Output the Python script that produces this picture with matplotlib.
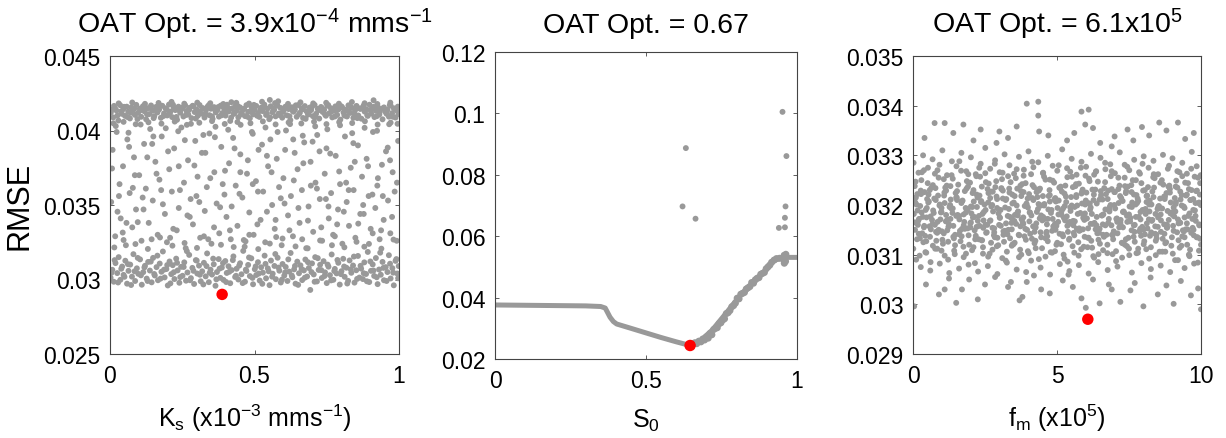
import matplotlib
matplotlib.use('Agg')
import matplotlib.pyplot as plt
import numpy as np

plt.rcParams['font.family'] = ['Liberation Sans', 'DejaVu Sans']
plt.rcParams['mathtext.fontset'] = 'custom'
plt.rcParams['mathtext.rm'] = 'Liberation Sans'
plt.rcParams['mathtext.it'] = 'Liberation Sans:italic'
plt.rcParams['mathtext.default'] = 'regular'

# ---------------- Panel 1: Ks (x in 1e-3 of axis range, y in 1e-5) ----------------
ks_top = [(3,4121),(11,4088),(17,4152),(22,4135),(29,4067),(35,4170),(41,4112),(46,4143),(52,4098),(58,4160),(63,4126),(69,4081),(74,4155),(80,4138),(86,4105),(91,4172),(97,4118),(103,4147),(108,4092),(114,4163),(119,4129),(125,4075),(131,4150),(136,4110),(142,4168),(147,4133),(153,4096),(159,4158),(164,4121),(170,4141),(176,4085),(181,4166),(187,4115),(192,4149),(198,4101),(204,4174),(209,4127),(215,4090),(220,4156),(226,4137),(232,4072),(237,4160),(243,4119),(248,4145),(254,4094),(260,4169),(265,4131),(271,4107),(276,4153),(282,4083),(288,4164),(293,4124),(299,4142),(304,4099),(310,4171),(316,4113),(321,4150),(327,4087),(332,4136),(338,4161),(344,4103),(349,4146),(355,4078),(360,4157),(366,4122),(372,4139),(377,4093),(383,4167),(388,4116),(394,4151),(400,4100),(405,4173),(411,4128),(416,4064),(422,4148),(428,4111),(433,4162),(439,4134),(444,4089),(450,4155),(456,4120),(461,4143),(467,4097),(472,4170),(478,4125),(484,4082),(489,4159),(495,4108),(500,4140),(506,4165),(512,4117),(517,4091),(523,4153),(528,4130),(534,4174),(540,4104),(545,4147),(551,4076),(556,4163),(562,4123),(568,4138),(573,4095),(579,4168),(584,4114),(590,4152),(596,4086),(601,4135),(607,4160),(612,4102),(618,4144),(624,4070),(629,4156),(635,4126),(640,4141),(646,4092),(652,4171),(657,4119),(663,4149),(668,4084),(674,4164),(680,4129),(685,4106),(691,4154),(696,4137),(702,4096),(708,4172),(713,4112),(719,4145),(724,4080),(730,4158),(736,4124),(741,4139),(747,4099),(752,4166),(758,4115),(764,4150),(769,4088),(775,4133),(780,4162),(786,4105),(792,4146),(797,4073),(803,4157),(808,4121),(814,4140),(820,4094),(825,4169),(831,4118),(836,4153),(842,4085),(848,4136),(853,4165),(859,4101),(864,4148),(870,4079),(876,4159),(881,4127),(887,4142),(892,4098),(898,4173),(904,4113),(909,4151),(915,4090),(920,4132),(926,4161),(932,4107),(937,4144),(943,4075),(948,4155),(954,4123),(960,4138),(965,4093),(971,4167),(976,4116),(982,4149),(988,4087),(993,4134),(998,4110),
(6,4140),(14,4165),(26,4101),(38,4128),(49,4159),(61,4090),(72,4119),(84,4147),(95,4077),(106,4136),(117,4161),(128,4109),(140,4151),(151,4083),(162,4130),(173,4168),(185,4097),(196,4142),(207,4118),(218,4173),(230,4091),(241,4134),(252,4156),(263,4104),(274,4139),(286,4166),(297,4080),(308,4125),(319,4149),(330,4112),(342,4170),(353,4095),(364,4137),(375,4158),(386,4102),(397,4131),(408,4150),(419,4086),(431,4119),(442,4164),(453,4108),(464,4145),(475,4093),(487,4128),(498,4172),(509,4099),(520,4139),(531,4155),(543,4114),(554,4088),(565,4147),(576,4167),(587,4103),(598,4124),(610,4157),(621,4096),(632,4133),(643,4169),(654,4110),(666,4142),(677,4078),(688,4122),(699,4160),(710,4090),(722,4136),(733,4152),(744,4107),(755,4171),(766,4127),(778,4094),(789,4140),(800,4163),(811,4100),(822,4131),(834,4154),(845,4115),(856,4083),(867,4145),(878,4168),(890,4104),(901,4138),(912,4159),(923,4096),(934,4126),(946,4150),(957,4112),(968,4170),(979,4092),(990,4141),(996,4160),
(12,4048),(47,4058),(89,4042),(133,4055),(178,4046),(224,4060),(266,4038),(309,4052),(353,4063),(397,4044),(441,4057),(486,4049),(529,4061),(573,4041),(618,4054),(662,4047),(706,4059),(749,4043),(793,4056),(838,4050),(882,4062),(926,4040),(971,4053),(995,4045),
(30,4182),(77,4188),(121,4179),(168,4185),(213,4192),(257,4180),(302,4187),(347,4183),(392,4178),(437,4186),(481,4181),(526,4193),(571,4184),(616,4179),(659,4189),(703,4182),(748,4186),(792,4180),(837,4191),(881,4183),(925,4178),(970,4187),
(553,4205),(582,4196),(912,4203),(420,4190)]

ks_bottom = [(2,3012),(8,3065),(13,2985),(19,3110),(25,3043),(30,3150),(36,2998),(42,3087),(47,3031),(53,3126),(59,2972),(64,3058),(70,3100),(76,3019),(81,3170),(87,2990),(93,3075),(98,3038),(104,3135),(110,2965),(115,3049),(121,3092),(127,3006),(132,3118),(138,3060),(144,2981),(149,3145),(155,3027),(161,3083),(166,2995),(172,3107),(178,3052),(183,3188),(189,3014),(195,3070),(200,2960),(206,3121),(212,3036),(217,3096),(223,3003),(229,3140),(234,3061),(240,2978),(246,3085),(251,3025),(257,3115),(263,2992),(268,3047),(274,3165),(280,3009),(285,3078),(291,2970),(297,3130),(302,3040),(308,3093),(314,2988),(319,3055),(325,3112),(331,3021),(336,3175),(342,2982),(348,3066),(353,3033),(359,3102),(365,2958),(370,3050),(376,3137),(382,3011),(387,3080),(393,2997),(399,3124),(404,3044),(410,3089),(416,2975),(421,3063),(427,3155),(433,3017),(438,3072),(444,3000),(450,3109),(455,3035),(461,3192),(467,2985),(472,3057),(478,3098),(484,3023),(489,3142),(495,2968),(501,3069),(506,3030),(512,3116),(518,2993),(523,3082),(529,3046),(535,3160),(540,3008),(546,3075),(552,2962),(557,3127),(563,3039),(569,3091),(574,3002),(580,3146),(586,3059),(591,2980),(597,3104),(603,3026),(608,3084),(614,2990),(620,3053),(625,3178),(631,3015),(637,3068),(642,2972),(648,3120),(654,3042),(659,3095),(665,2996),(671,3061),(676,3134),(682,3020),(688,3077),(693,2930),(699,3108),(705,3034),(710,3150),(716,2987),(722,3064),(727,3099),(733,3010),(739,3123),(744,3048),(750,2976),(756,3086),(761,3029),(767,3168),(773,2998),(778,3071),(784,3041),(790,3112),(795,2966),(801,3056),(807,3139),(812,3018),(818,3079),(824,2991),(829,3128),(835,3045),(841,3094),(846,2979),(852,3062),(858,3158),(863,3013),(869,3073),(875,3003),(880,3115),(886,3037),(892,3185),(897,2983),(903,3058),(909,3101),(914,3024),(920,3144),(926,2969),(931,3067),(937,3032),(943,3118),(948,2995),(954,3083),(960,3050),(965,3163),(971,3007),(977,3076),(982,2961),(988,3125),(994,3040),(999,3090),
(5,3045),(16,3130),(28,2980),(39,3072),(50,3018),(62,3103),(73,2963),(85,3055),(96,3145),(107,3028),(119,3081),(130,2990),(141,3120),(153,3037),(164,3160),(175,3006),(187,3066),(198,3097),(209,2974),(221,3049),(232,3112),(243,3016),(255,3084),(266,3190),(277,2995),(289,3058),(300,3127),(311,3032),(323,2967),(334,3090),(345,3045),(357,3140),(368,3001),(379,3073),(391,3110),(402,2983),(413,3052),(425,3130),(436,3025),(447,3093),(459,2976),(470,3066),(481,3148),(493,3011),(504,3088),(515,3040),(527,2971),(538,3105),(549,3055),(561,3019),(572,3171),(583,3080),(595,2999),(606,3047),(617,3135),(629,3027),(640,3091),(651,2964),(663,3070),(674,3012),(685,3116),(697,3050),(708,2985),(719,3143),(731,3063),(742,3023),(753,3100),(765,2994),(776,3057),(787,3131),(799,3036),(810,3087),(821,2973),(833,3068),(844,3154),(855,3004),(867,3092),(878,3042),(889,2988),(901,3121),(912,3060),(923,3015),(935,3180),(946,3078),(957,2990),(969,3106),(980,3046),(991,3137),(997,3008)]

ks_middle = [(4,3520),(9,3870),(18,3290),(23,3990),(33,3640),(37,3410),(45,3760),(55,3230),(60,3940),(68,3580),(77,3350),(83,3820),(90,3470),(101,3700),(109,3260),(118,3910),(124,3610),(134,3380),(139,4010),(148,3530),(157,3790),(165,3300),(171,3670),(179,3960),(190,3440),(197,3250),(205,3740),(214,3590),(222,3880),(231,3330),(238,3480),(247,4020),(256,3650),(262,3210),(270,3800),(279,3540),(287,3370),(295,3930),(303,3690),(312,3280),(318,3850),(328,3460),(335,3620),(344,3980),(351,3240),(361,3720),(369,3510),(378,3310),(385,3890),(396,3570),(403,3420),(412,3780),(418,3270),(426,3950),(435,3630),(441,3360),(451,3840),(458,3550),(466,3220),(474,3710),(482,3450),(491,3990),(497,3300),(505,3660),(514,3870),(521,3400),(530,3590),(537,3250),(547,3760),(555,3940),(561,3500),(570,3340),(577,3810),(585,3620),(594,3230),(600,3680),(609,4000),(616,3430),(626,3560),(633,3290),(639,3850),(649,3740),(656,3380),(664,3600),(672,3920),(679,3210),(687,3490),(694,3790),(703,3320),(711,3650),(717,3970),(726,3540),(734,3260),(743,3710),(749,3880),(757,3410),(765,3580),(772,3300),(781,3830),(789,3470),(796,3640),(804,3240),(813,3960),(819,3520),(827,3360),(833,3750),(843,3600),(849,3280),(858,3900),(866,3440),(872,3690),(880,3220),(888,3810),(895,3560),(902,3340),(910,3990),(918,3480),(925,3630),(933,3270),(941,3770),(947,3400),(955,3860),(962,3530),(970,3310),(978,3720),(985,3590),(992,3260),(997,3930),
(15,3215),(47,3265),(88,3238),(131,3205),(173,3282),(216,3227),(258,3245),(301,3212),(340,3270),(384,3233),(428,3218),(469,3256),(513,3204),(553,3241),(597,3275),(642,3222),(684,3209),(727,3262),(768,3230),(811,3216),(853,3253),(896,3239),(939,3207),(981,3268),
(20,4030),(64,3985),(106,4040),(150,3960),(193,4015),(236,3995),(280,4045),(323,3970),(365,4025),(409,4005),(452,4038),(494,3978),(538,4020),(580,3990),(623,4043),(667,3965),(710,4028),(752,4008),(796,4035),(838,3982),(881,4018),(924,3998),(966,4042),
(7,3745),(26,3455),(44,3315),(66,3890),(79,3615),(96,3385),(113,3550),(129,3820),(144,3270),(161,3710),(183,3505),(201,3860),(219,3340),(242,3600),(259,3935),(276,3420),(292,3765),(309,3520),(325,3290),(347,3680),(363,3955),(381,3485),(398,3730),(415,3330),(431,3880),(448,3575),(463,3265),(477,3800),(494,3640),(510,3370),(526,3905),(543,3455),(559,3720),(575,3285),(591,3545),(606,3870),(621,3330),(636,3665),(652,3480),(669,3780),(685,3395),(701,3925),(716,3610),(731,3350),(747,3540),(762,3845),(778,3290),(793,3725),(809,3455),(826,3600),(842,3915),(859,3375),(876,3500),(893,3760),(909,3310),(927,3680),(944,3560),(961,3885),(976,3420),(993,3650),
(31,3560),(57,3380),(86,3700),(116,3470),(146,3910),(177,3600),(208,3280),(238,3760),(268,3430),(299,3560),(330,3850),(360,3350),(390,3640),(421,3490),(451,3720),(482,3300),(512,3590),(543,3830),(573,3400),(604,3510),(634,3940),(665,3270),(695,3630),(725,3860),(756,3490),(786,3370),(817,3650),(847,3790),(878,3440),(908,3570),(938,3330),(969,3800)]

ks_opt = (0.388, 0.0290)

# ---------------- Panel 2: S0 ----------------
s0_curve_x = [0.0, 0.10, 0.20, 0.30, 0.35, 0.365, 0.381, 0.392, 0.403, 0.45, 0.50, 0.55, 0.60, 0.646,
              0.68, 0.72, 0.77, 0.81, 0.855, 0.90, 0.92, 0.94, 0.955, 1.0]
s0_curve_y = [0.0376, 0.0375, 0.0374, 0.0373, 0.0371, 0.0366, 0.0336, 0.0322, 0.0314, 0.0300, 0.0285, 0.0270, 0.0256, 0.0244,
              0.0259, 0.0295, 0.0355, 0.0405, 0.0450, 0.0493, 0.0518, 0.0528, 0.0531, 0.0531]
s0_band = [(0.655,0.0249),(0.662,0.0253),(0.668,0.0250),(0.675,0.0258),(0.682,0.0256),(0.688,0.0265),(0.694,0.0262),(0.700,0.0272),(0.706,0.0268),(0.712,0.0283),(0.718,0.0279),(0.724,0.0296),(0.730,0.0300),(0.736,0.0302),(0.742,0.0315),(0.748,0.0318),(0.754,0.0327),(0.760,0.0331),(0.766,0.0348),(0.772,0.0351),(0.778,0.0358),(0.784,0.0370),(0.790,0.0374),(0.796,0.0382),(0.802,0.0398),(0.808,0.0396),(0.814,0.0411),(0.820,0.0414),(0.826,0.0417),(0.832,0.0428),(0.838,0.0432),(0.844,0.0436),(0.850,0.0449),(0.856,0.0447),(0.862,0.0458),(0.868,0.0463),(0.874,0.0465),(0.880,0.0476),(0.886,0.0479),(0.892,0.0482),(0.898,0.0494),(0.904,0.0500),(0.910,0.0506),(0.916,0.0515),(0.924,0.0522),(0.932,0.0527),(0.942,0.0528),(0.955,0.0525),(0.958,0.0512),(0.962,0.0518),(0.960,0.0535),(0.963,0.0541)]
s0_out_x = [0.621, 0.632, 0.664, 0.940, 0.952, 0.965, 0.962, 0.960, 0.960, 0.956]
s0_out_y = [0.0697, 0.0887, 0.0657, 0.0627, 0.1005, 0.0861, 0.0697, 0.0660, 0.0629, 0.0539]
s0_opt = (0.646, 0.0244)

# ---------------- Panel 3: fm (x in 1e-2 -> 0..10, y in 1e-5) ----------------
fm_pts = [(3,3182),(10,3215),(17,3160),(25,3198),(32,3143),(40,3226),(47,3175),(55,3207),(62,3151),(70,3189),(78,3234),(85,3166),(93,3201),(100,3147),(108,3219),(115,3180),(123,3156),(131,3211),(138,3193),(146,3140),(153,3228),(161,3171),(168,3204),(176,3159),(184,3185),(191,3237),(199,3163),(206,3196),(214,3149),(221,3221),(229,3178),(237,3208),(244,3154),(252,3190),(259,3232),(267,3168),(275,3200),(282,3145),(290,3217),(297,3183),(305,3158),(312,3213),(320,3195),(328,3141),(335,3225),(343,3173),(350,3205),(358,3162),(365,3187),(373,3239),(381,3165),(388,3198),(396,3150),(403,3222),(411,3179),(418,3210),(426,3155),(434,3192),(441,3233),(449,3169),(456,3202),(464,3146),(471,3218),(479,3184),(487,3157),(494,3214),(502,3194),(509,3142),(517,3227),(524,3174),(532,3206),(540,3161),(547,3188),(555,3236),(562,3167),(570,3199),(577,3148),(585,3223),(593,3177),(600,3209),(608,3153),(615,3191),(623,3231),(630,3164),(638,3203),(646,3144),(653,3220),(661,3181),(668,3159),(676,3212),(683,3196),(691,3140),(699,3226),(706,3172),(714,3204),(721,3160),(729,3186),(736,3238),(744,3166),(752,3197),(759,3149),(767,3221),(774,3176),(782,3208),(789,3152),(797,3190),(805,3230),(812,3163),(820,3201),(827,3145),(835,3216),(842,3182),(850,3156),(858,3213),(865,3193),(873,3142),(880,3224),(888,3170),(895,3205),(903,3158),(911,3187),(918,3235),(926,3165),(933,3199),(941,3147),(948,3219),(956,3178),(964,3210),(971,3154),(979,3189),(986,3229),(994,3161),(999,3200),
(6,3238),(14,3131),(21,3172),(29,3250),(36,3125),(44,3190),(51,3244),(59,3136),(66,3170),(74,3213),(81,3128),(89,3255),(97,3185),(104,3122),(112,3235),(119,3149),(127,3196),(134,3260),(142,3133),(150,3178),(157,3241),(165,3127),(172,3209),(180,3152),(187,3248),(195,3120),(203,3183),(210,3230),(218,3138),(225,3168),(233,3257),(240,3129),(248,3201),(256,3145),(263,3243),(271,3124),(278,3187),(286,3236),(293,3134),(301,3175),(309,3252),(316,3126),(324,3212),(331,3150),(339,3246),(346,3121),(354,3180),(362,3233),(369,3139),(377,3171),(384,3259),(392,3130),(399,3195),(407,3142),(415,3240),(422,3123),(430,3186),(437,3229),(445,3135),(452,3176),(460,3251),(468,3127),(475,3207),(483,3148),(490,3245),(498,3120),(505,3181),(513,3237),(521,3137),(528,3169),(536,3256),(543,3132),(551,3199),(558,3144),(566,3242),(574,3125),(581,3184),(589,3231),(596,3136),(604,3173),(611,3253),(619,3128),(627,3210),(634,3151),(642,3247),(649,3122),(657,3179),(664,3234),(672,3140),(680,3172),(687,3258),(695,3131),(702,3193),(710,3143),(717,3239),(725,3124),(733,3185),(740,3228),(748,3134),(755,3174),(763,3250),(770,3126),(778,3204),(786,3147),(793,3244),(801,3121),(808,3182),(816,3236),(823,3138),(831,3170),(839,3254),(846,3133),(854,3198),(861,3146),(869,3241),(876,3123),(884,3188),(892,3232),(899,3135),(907,3177),(914,3249),(922,3129),(929,3211),(937,3149),(945,3245),(952,3120),(960,3183),(967,3230),(975,3139),(982,3168),(990,3255),(997,3132),
(2,3285),(11,3090),(19,3265),(27,3075),(35,3300),(43,3105),(52,3275),(60,3068),(68,3292),(77,3112),(85,3270),(93,3082),(102,3310),(110,3098),(118,3260),(126,3063),(135,3288),(143,3108),(151,3278),(160,3072),(168,3305),(176,3095),(185,3268),(193,3080),(201,3296),(210,3115),(218,3262),(226,3066),(235,3283),(243,3102),(251,3315),(260,3077),(268,3273),(276,3110),(285,3290),(293,3061),(301,3266),(310,3093),(318,3302),(326,3084),(335,3280),(343,3118),(351,3263),(360,3070),(368,3297),(376,3100),(385,3271),(393,3065),(401,3308),(410,3088),(418,3276),(426,3113),(435,3286),(443,3074),(451,3264),(460,3096),(468,3299),(476,3060),(485,3279),(493,3107),(501,3269),(510,3081),(518,3312),(526,3092),(535,3274),(543,3067),(551,3293),(560,3104),(568,3261),(576,3079),(585,3287),(593,3116),(601,3277),(610,3062),(618,3303),(626,3097),(635,3267),(643,3085),(651,3295),(660,3109),(668,3272),(676,3069),(685,3282),(693,3101),(701,3264),(710,3076),(718,3306),(726,3094),(735,3281),(743,3117),(751,3270),(760,3064),(768,3291),(776,3103),(785,3266),(793,3083),(801,3298),(810,3111),(818,3275),(826,3071),(835,3289),(843,3099),(851,3262),(860,3078),(868,3301),(876,3106),(885,3273),(893,3065),(901,3294),(910,3089),(918,3268),(926,3114),(935,3285),(943,3073),(951,3263),(960,3097),(968,3307),(976,3082),(985,3278),(993,3108),(999,3260),
(8,3205),(18,3168),(28,3222),(38,3155),(48,3194),(58,3230),(68,3162),(79,3210),(89,3150),(99,3186),(109,3225),(119,3170),(129,3200),(140,3158),(150,3215),(160,3178),(170,3152),(180,3228),(190,3190),(201,3165),(211,3207),(221,3156),(231,3219),(241,3182),(251,3160),(262,3224),(272,3197),(282,3153),(292,3212),(302,3174),(312,3229),(323,3163),(333,3192),(343,3151),(353,3218),(363,3185),(373,3157),(384,3226),(394,3203),(404,3167),(414,3214),(424,3154),(434,3231),(445,3179),(455,3199),(465,3161),(475,3220),(485,3172),(495,3150),(506,3209),(516,3188),(526,3223),(536,3158),(546,3195),(556,3168),(567,3216),(577,3153),(587,3227),(597,3183),(607,3204),(617,3162),(628,3221),(638,3176),(648,3152),(658,3211),(668,3191),(678,3229),(689,3159),(699,3200),(709,3166),(719,3218),(729,3155),(739,3224),(750,3181),(760,3196),(770,3160),(780,3213),(790,3171),(800,3150),(811,3206),(821,3187),(831,3227),(841,3157),(851,3193),(861,3169),(872,3217),(882,3154),(892,3225),(902,3180),(912,3202),(922,3163),(933,3220),(943,3175),(953,3151),(963,3210),(973,3190),(983,3228),(994,3159),
(1,3112),(9,3247),(16,3189),(24,3133),(31,3266),(39,3158),(46,3104),(54,3221),(61,3177),(69,3118),(76,3263),(84,3144),(92,3199),(99,3108),(107,3252),(114,3167),(122,3126),(130,3238),(137,3184),(145,3101),(152,3215),(160,3141),(167,3269),(175,3116),(183,3194),(190,3153),(198,3245),(205,3109),(213,3176),(220,3258),(228,3131),(236,3206),(243,3115),(251,3264),(258,3160),(266,3102),(273,3227),(281,3139),(289,3248),(296,3119),(304,3190),(311,3265),(319,3148),(326,3106),(334,3233),(342,3164),(349,3121),(357,3254),(364,3179),(372,3110),(379,3242),(387,3137),(395,3200),(402,3103),(410,3262),(417,3157),(425,3128),(432,3216),(440,3173),(448,3113),(455,3257),(463,3143),(470,3191),(478,3105),(485,3249),(493,3162),(501,3124),(508,3235),(516,3180),(523,3100),(531,3217),(538,3146),(546,3267),(554,3117),(561,3196),(569,3152),(576,3243),(584,3111),(591,3174),(599,3259),(607,3134),(614,3203),(622,3114),(629,3261),(637,3159),(644,3101),(652,3228),(660,3140),(667,3246),(675,3120),(682,3187),(690,3268),(697,3147),(705,3107),(713,3232),(720,3165),(728,3123),(735,3255),(743,3178),(750,3112),(758,3240),(766,3136),(773,3201),(781,3104),(788,3263),(796,3156),(803,3127),(811,3218),(819,3171),(826,3115),(834,3256),(841,3142),(849,3192),(856,3106),(864,3250),(872,3161),(879,3125),(887,3237),(894,3183),(902,3102),(909,3214),(917,3145),(925,3266),(932,3118),(940,3197),(947,3151),(955,3244),(962,3110),(970,3172),(978,3257),(985,3135),(993,3205),(1000,3120),
(5,3165),(12,3201),(20,3142),(27,3229),(34,3176),(42,3138),(49,3212),(57,3157),(64,3235),(72,3184),(80,3146),(87,3219),(95,3171),(102,3130),(110,3204),(117,3239),(125,3161),(133,3193),(140,3136),(148,3224),(155,3180),(163,3148),(171,3208),(178,3166),(186,3233),(193,3139),(201,3197),(208,3175),(216,3131),(224,3215),(231,3158),(239,3237),(246,3186),(254,3144),(261,3205),(269,3169),(277,3227),(284,3135),(292,3194),(299,3160),(307,3232),(314,3147),(322,3210),(329,3178),(337,3133),(345,3221),(352,3168),(360,3199),(367,3140),(375,3228),(383,3175),(390,3152),(398,3213),(405,3185),(413,3132),(420,3236),(428,3163),(436,3202),(443,3145),(451,3218),(458,3172),(466,3137),(474,3230),(481,3190),(489,3154),(496,3207),(504,3166),(511,3234),(519,3141),(527,3198),(534,3177),(542,3130),(549,3216),(557,3159),(564,3238),(572,3182),(580,3149),(587,3203),(595,3170),(602,3225),(610,3134),(617,3195),(625,3162),(633,3231),(640,3143),(648,3211),(655,3179),(663,3136),(670,3222),(678,3164),(686,3200),(693,3139),(701,3226),(708,3173),(716,3155),(723,3214),(731,3187),(739,3131),(746,3237),(754,3167),(761,3205),(769,3146),(776,3220),(784,3176),(792,3138),(799,3229),(807,3192),(814,3153),(822,3209),(829,3168),(837,3235),(845,3140),(852,3197),(860,3181),(867,3132),(875,3217),(882,3160),(890,3239),(898,3185),(905,3148),(913,3206),(920,3171),(928,3227),(935,3137),(943,3194),(951,3163),(958,3232),(966,3144),(973,3212),(981,3178),(988,3135),(996,3221),
(7,3150),(15,3222),(23,3098),(30,3185),(38,3270),(46,3127),(53,3205),(61,3085),(69,3240),(76,3160),(84,3112),(92,3281),(99,3194),(107,3143),(115,3229),(122,3090),(130,3172),(138,3253),(146,3119),(153,3210),(161,3288),(169,3137),(176,3181),(184,3102),(192,3262),(199,3155),(207,3224),(215,3083),(222,3196),(230,3275),(238,3129),(245,3169),(253,3246),(261,3096),(268,3214),(276,3154),(284,3283),(291,3117),(299,3190),(307,3234),(314,3140),(322,3088),(330,3258),(337,3176),(345,3203),(353,3124),(360,3272),(368,3095),(376,3218),(383,3162),(391,3244),(399,3107),(406,3185),(414,3287),(422,3146),(429,3226),(437,3091),(445,3199),(452,3265),(460,3133),(468,3172),(475,3251),(483,3104),(491,3211),(498,3158),(506,3280),(514,3121),(521,3193),(529,3239),(537,3086),(544,3166),(552,3257),(560,3139),(567,3220),(575,3098),(583,3275),(590,3151),(598,3201),(606,3115),(613,3248),(621,3182),(629,3094),(636,3268),(644,3130),(652,3214),(659,3161),(667,3285),(675,3103),(682,3190),(690,3232),(698,3144),(705,3087),(713,3255),(721,3170),(728,3208),(736,3120),(744,3277),(751,3099),(759,3226),(767,3159),(774,3250),(782,3112),(790,3186),(797,3283),(805,3141),(813,3219),(820,3092),(828,3201),(836,3262),(843,3128),(851,3175),(859,3245),(866,3106),(874,3212),(882,3155),(889,3279),(897,3118),(905,3195),(912,3237),(920,3089),(928,3164),(935,3258),(943,3135),(951,3221),(958,3100),(966,3273),(974,3150),(981,3204),(989,3084),(997,3244),
(4,2996),(45,3040),(90,3020),(110,3030),(125,3052),(150,3003),(170,3030),(195,3050),(225,3010),(250,3040),(285,3055),(330,3035),(370,3008),(380,3015),(395,3045),(420,3058),(445,3030),(475,3022),(520,3048),(555,3035),(585,3012),(600,2993),(625,3050),(648,3002),(680,3040),(690,3030),(720,3005),(755,3028),(770,3043),(800,2996),(825,3054),(850,3020),(880,3038),(905,3001),(930,3047),(965,3018),(990,3032),(1000,2990),(540,3060),(340,3045),
(40,3335),(75,3365),(110,3365),(140,3345),(175,3362),(210,3330),(235,3352),(300,3348),(330,3335),(360,3358),(395,3404),(435,3408),(435,3380),(438,3348),(470,3340),(535,3330),(560,3345),(585,3388),(610,3392),(598,3362),(625,3355),(650,3325),(700,3338),(745,3352),(765,3330),(795,3357),(820,3340),(855,3366),(880,3350),(920,3366),(945,3333),(975,3345),(290,3325),(690,3318)]

fm_opt = (6.07, 0.0297)

# ---------------- labels ----------------
titles = ['OAT Opt. = 3.9x10$^{-4}$ mms$^{-1}$', 'OAT Opt. = 0.67', 'OAT Opt. = 6.1x10$^{5}$']
xlabels = ['K$_{s}$ (x10$^{-3}$ mms$^{-1}$)', 'S$_{0}$', 'f$_{m}$ (x10$^{5}$)']
ylabel = 'RMSE'
p1_yticks = [0.025, 0.03, 0.035, 0.04, 0.045]
p1_yticklabels = ['0.025', '0.03', '0.035', '0.04', '0.045']
p1_xticks = [0, 0.5, 1]
p1_xticklabels = ['0', '0.5', '1']
p2_yticks = [0.02, 0.04, 0.06, 0.08, 0.1, 0.12]
p2_yticklabels = ['0.02', '0.04', '0.06', '0.08', '0.1', '0.12']
p2_xticks = [0, 0.5, 1]
p2_xticklabels = ['0', '0.5', '1']
p3_yticks = [0.029, 0.03, 0.031, 0.032, 0.033, 0.034, 0.035]
p3_yticklabels = ['0.029', '0.03', '0.031', '0.032', '0.033', '0.034', '0.035']
p3_xticks = [0, 5, 10]
p3_xticklabels = ['0', '5', '10']

GREY = '#999999'
RED = '#ff0000'
DOT = 18
OPT = 68
FRAME = '#444444'

W, H = 1226, 439
fig = plt.figure(figsize=(W/100, H/100), dpi=100)
ax1 = fig.add_axes([110/W, 1-355/H, 289/W, 298/H])
ax2 = fig.add_axes([495/W, 1-360/H, 302/W, 307/H])
ax3 = fig.add_axes([913/W, 1-355/H, 288/W, 298/H])

def xy(pts, xs, ys):
    a = np.array(pts, dtype=float)
    return a[:, 0] / xs, a[:, 1] / ys

for pts in (ks_top, ks_bottom, ks_middle):
    x, y = xy(pts, 1000.0, 1e5)
    ax1.scatter(x, y, s=DOT, c=GREY, edgecolors='none', zorder=2)
ax1.scatter([ks_opt[0]], [ks_opt[1]], s=OPT, c=RED, edgecolors='none', zorder=5)

ax2.plot(s0_curve_x, s0_curve_y, color=GREY, lw=3.6, solid_capstyle='round', zorder=2)
bx, by = xy(s0_band, 1.0, 1.0)
ax2.scatter(bx, by, s=26, c=GREY, edgecolors='none', zorder=2)
ax2.scatter(s0_out_x, s0_out_y, s=DOT, c=GREY, edgecolors='none', zorder=2)
ax2.scatter([s0_opt[0]], [s0_opt[1]], s=OPT, c=RED, edgecolors='none', zorder=5)

fx, fy = xy(fm_pts, 100.0, 1e5)
ax3.scatter(fx, fy, s=DOT, c=GREY, edgecolors='none', zorder=2)
ax3.scatter([fm_opt[0]], [fm_opt[1]], s=OPT, c=RED, edgecolors='none', zorder=5)

specs = [
    (ax1, (0, 1), (0.025, 0.045), p1_xticks, p1_xticklabels, p1_yticks, p1_yticklabels),
    (ax2, (0, 1), (0.02, 0.12), p2_xticks, p2_xticklabels, p2_yticks, p2_yticklabels),
    (ax3, (0, 10), (0.029, 0.035), p3_xticks, p3_xticklabels, p3_yticks, p3_yticklabels),
]
for i, (ax, xl, yl, xt, xtl, yt, ytl) in enumerate(specs):
    ax.set_xlim(*xl)
    ax.set_ylim(*yl)
    ax.set_xticks(xt)
    ax.set_xticklabels(xtl)
    ax.set_yticks(yt)
    ax.set_yticklabels(ytl)
    ax.tick_params(direction='in', top=True, right=True, length=3, width=0.6,
                   color=FRAME, labelsize=16.5, pad=7, labelcolor='black')
    for sp in ax.spines.values():
        sp.set_color(FRAME)
        sp.set_linewidth(0.8)
    pos = ax.get_position()
    fig.text((pos.x0 + pos.x1) / 2, 1 - 33/H, titles[i], fontsize=20.5,
             ha='center', va='baseline')
    ax.set_xlabel(xlabels[i], fontsize=18, labelpad=11)

ax1.set_ylabel(ylabel, fontsize=22, labelpad=6)

fig.savefig('out.png', dpi=100)
